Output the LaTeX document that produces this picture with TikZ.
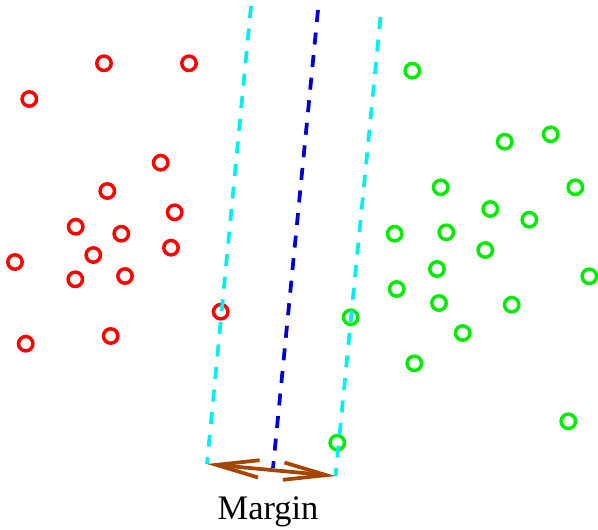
\documentclass[tikz,border=0pt]{standalone}
\usepackage{fontspec}
\setmainfont{Liberation Serif}
\usetikzlibrary{arrows.meta}
\definecolor{ptred}{RGB}{255,0,0}
\definecolor{ptgreen}{RGB}{0,235,0}
\definecolor{sepcyan}{RGB}{0,240,240}
\definecolor{sepblue}{RGB}{0,0,210}
\definecolor{arrbrown}{RGB}{165,70,0}
\begin{document}
\begin{tikzpicture}[x=0.75pt,y=-0.75pt,
  redpt/.style={draw=ptred,line width=2.6pt,circle,minimum size=10.8pt,inner sep=0pt},
  greenpt/.style={draw=ptgreen,line width=2.6pt,circle,minimum size=10.8pt,inner sep=0pt},
  sepline/.style={line width=2.8pt,dash pattern=on 9pt off 8pt},
  marginarrow/.style={draw=arrbrown,line width=2.8pt,{Straight Barb[length=32pt,width=13pt]}-{Straight Barb[length=32pt,width=13pt]}}]
\useasboundingbox (0,0) rectangle (598,529);
% red class
\node[redpt] (r1) at (104,63.3) {};
\node[redpt] (r2) at (189,63.3) {};
\node[redpt] (r3) at (29.3,99) {};
\node[redpt] (r4) at (160.7,162.7) {};
\node[redpt] (r5) at (107.3,191) {};
\node[redpt] (r6) at (174.7,212.3) {};
\node[redpt] (r7) at (75.7,226.7) {};
\node[redpt] (r8) at (121.3,233.7) {};
\node[redpt] (r9) at (93.3,255) {};
\node[redpt] (r10) at (171,247.7) {};
\node[redpt] (r11) at (15,262) {};
\node[redpt] (r12) at (75.3,279.3) {};
\node[redpt] (r13) at (125,276) {};
\node[redpt] (r14) at (220.7,311.7) {};
\node[redpt] (r15) at (25.7,343.7) {};
\node[redpt] (r16) at (110.7,336) {};
% green class
\node[greenpt] (g1) at (412.3,70.7) {};
\node[greenpt] (g2) at (504.7,141.7) {};
\node[greenpt] (g3) at (550.7,134.3) {};
\node[greenpt] (g4) at (440.7,187.3) {};
\node[greenpt] (g5) at (575.3,187.3) {};
\node[greenpt] (g6) at (490.3,209) {};
\node[greenpt] (g7) at (529.3,219.7) {};
\node[greenpt] (g8) at (394.7,233.7) {};
\node[greenpt] (g9) at (446.3,232.3) {};
\node[greenpt] (g10) at (485.3,250) {};
\node[greenpt] (g11) at (437,269) {};
\node[greenpt] (g12) at (589.3,276.3) {};
\node[greenpt] (g13) at (396.7,289) {};
\node[greenpt] (g14) at (439,303) {};
\node[greenpt] (g15) at (511.7,304.7) {};
\node[greenpt] (g16) at (350.7,317.3) {};
\node[greenpt] (g17) at (462.7,333) {};
\node[greenpt] (g18) at (414.3,363.3) {};
\node[greenpt] (g19) at (568.3,421.3) {};
\node[greenpt] (g20) at (337.3,442.7) {};
% separating lines
\coordinate (lt) at (251,6);
\coordinate (lb) at (207,464);
\coordinate (mt) at (318,10);
\coordinate (mb) at (273,468);
\coordinate (rt) at (380.5,17);
\coordinate (rb) at (335.5,476);
\draw[sepline,sepcyan] (lt) -- (lb);
\draw[sepline,sepblue] (mt) -- (mb);
\draw[sepline,sepcyan] (rt) -- (rb);
% margin arrow
\draw[marginarrow] (lb) -- (rb);
\node[anchor=base,font=\fontsize{25.8}{30}\selectfont,inner sep=0pt] (mlabel) at (268,519) {Margin};
\end{tikzpicture}
\end{document}
